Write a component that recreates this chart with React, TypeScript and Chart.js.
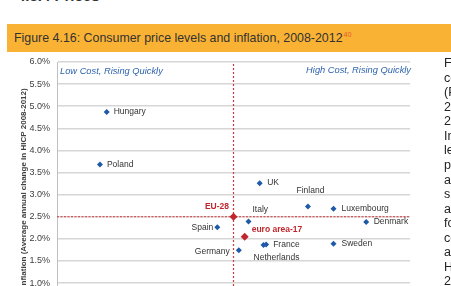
import React, { useEffect, useRef } from "react";
import { Chart, registerables } from "chart.js";

Chart.register(...registerables);

// ---- Data ----
const countries = ["Hungary", "Poland", "Spain", "Germany", "Italy", "UK", "France", "Netherlands", "Finland", "Luxembourg", "Denmark", "Sweden"];
const priceLevel = [56.9, 54.6, 94.5, 101.8, 105.1, 108.9, 111.1, 110.2, 125.3, 134.0, 145.1, 134.0];
const inflation = [4.87, 3.68, 2.26, 1.74, 2.39, 3.26, 1.87, 1.86, 2.73, 2.68, 2.38, 1.89];
const aggregates = ["EU-28", "euro area-17"];
const aggPriceLevel = [100, 103.8];
const aggInflation = [2.5, 2.05];
const quadrantLabels = ["Low Cost, Rising Quickly", "High Cost, Rising Quickly"];
const titleText = "Figure 4.16: Consumer price levels and inflation, 2008-2012";
const titleNote = "40";
const yAxisTitle = "Inflation (Average annual change in HICP 2008-2012)";
const paragraphLines = ["Figure 4.16", "compares", "(PLI)", "2012", "2008-", "Inflation", "levels", "price", "and", "such", "are", "for", "countries", "and", "Hungary", "2012"];

// ---- Axis configuration ----
const X_MIN = 40;
const X_MAX = 160;
const Y_MIN = 0.3;
const Y_MAX = 6;
const Y_STEP = 0.5;

// ---- Label placement (style) ----
type Place = { align: CanvasTextAlign; dx: number; dy: number };
const LABEL_PLACE: Record<string, Place> = {
  Hungary: { align: "left", dx: 7, dy: 0 },
  Poland: { align: "left", dx: 7, dy: 0 },
  Spain: { align: "right", dx: -4, dy: 0 },
  Germany: { align: "right", dx: -9, dy: 1.5 },
  Italy: { align: "left", dx: 4, dy: -11.5 },
  UK: { align: "left", dx: 7.5, dy: 0 },
  France: { align: "left", dx: 7, dy: 0 },
  Netherlands: { align: "center", dx: 13, dy: 12.5 },
  Finland: { align: "center", dx: 2.5, dy: -16 },
  Luxembourg: { align: "left", dx: 8, dy: 0 },
  Denmark: { align: "left", dx: 7.5, dy: 0 },
  Sweden: { align: "left", dx: 8, dy: 0 },
  "EU-28": { align: "right", dx: -4.5, dy: -10 },
  "euro area-17": { align: "left", dx: 7, dy: -6.5 },
};

const FONT = "'Liberation Sans', Arial, sans-serif";
const BLUE = "#1F5AA8";
const RED = "#C0272D";
const LINE_RED = "#D2383C";
const QUAD_BLUE = "#2F64AE";

const labelPlugin = {
  id: "pointLabels",
  afterDatasetsDraw(chart: any) {
    const ctx = chart.ctx as CanvasRenderingContext2D;
    ctx.save();
    ctx.textBaseline = "middle";
    const m0 = chart.getDatasetMeta(0);
    ctx.font = `8.5px ${FONT}`;
    ctx.fillStyle = "#333333";
    m0.data.forEach((el: any, i: number) => {
      const name = countries[i];
      const p = LABEL_PLACE[name];
      ctx.textAlign = p.align;
      ctx.fillText(name, el.x + p.dx, el.y + p.dy);
    });
    const m1 = chart.getDatasetMeta(1);
    ctx.font = `bold 8.5px ${FONT}`;
    ctx.fillStyle = RED;
    m1.data.forEach((el: any, i: number) => {
      const name = aggregates[i];
      const p = LABEL_PLACE[name];
      ctx.textAlign = p.align;
      ctx.fillText(name, el.x + p.dx, el.y + p.dy);
    });
    const a = chart.chartArea;
    ctx.font = `italic 9.3px ${FONT}`;
    ctx.fillStyle = QUAD_BLUE;
    ctx.textAlign = "left";
    ctx.fillText(quadrantLabels[0], a.left + 3, a.top + 9);
    ctx.textAlign = "right";
    ctx.fillText(quadrantLabels[1], a.right + 1, a.top + 8);
    ctx.restore();
  },
};

export default function App() {
  const ref = useRef<HTMLCanvasElement | null>(null);

  useEffect(() => {
    if (!ref.current) return;
    const chart = new Chart(ref.current, {
      type: "scatter",
      data: {
        datasets: [
          {
            label: "Countries",
            data: countries.map((_, i) => ({ x: priceLevel[i], y: inflation[i] })),
            pointStyle: "rectRot",
            pointRadius: 3,
            backgroundColor: BLUE,
            borderColor: BLUE,
            borderWidth: 0,
            order: 1,
          },
          {
            label: "Aggregates",
            data: aggregates.map((_, i) => ({ x: aggPriceLevel[i], y: aggInflation[i] })),
            pointStyle: "rectRot",
            pointRadius: 4,
            backgroundColor: RED,
            borderColor: RED,
            borderWidth: 0,
            order: 0,
          },
          {
            type: "line",
            label: "EU inflation",
            data: [
              { x: X_MIN, y: aggInflation[0] },
              { x: X_MAX, y: aggInflation[0] },
            ],
            borderColor: LINE_RED,
            borderWidth: 1,
            borderDash: [2, 1.5],
            pointRadius: 0,
            showLine: true,
            order: 5,
          } as any,
          {
            type: "line",
            label: "EU price level",
            data: [
              { x: aggPriceLevel[0], y: Y_MIN },
              { x: aggPriceLevel[0], y: Y_MAX },
            ],
            borderColor: LINE_RED,
            borderWidth: 1.2,
            borderDash: [2, 2],
            pointRadius: 0,
            showLine: true,
            order: 5,
          } as any,
        ],
      },
      options: {
        animation: false,
        responsive: false,
        events: [],
        layout: { padding: { left: 19, top: 62, right: 41, bottom: 26 } },
        plugins: { legend: { display: false }, tooltip: { enabled: false } },
        scales: {
          x: { type: "linear", min: X_MIN, max: X_MAX, display: false },
          y: {
            type: "linear",
            min: Y_MIN,
            max: Y_MAX,
            afterFit: (s: any) => {
              s.width = 38;
            },
            border: { display: true, color: "#BFBFBF", width: 1 },
            grid: { color: "#D6D6D6", lineWidth: 1.5, drawTicks: false },
            ticks: {
              stepSize: Y_STEP,
              padding: 7,
              color: "#404040",
              font: { size: 9, family: FONT },
              callback: (v: any) => Number(v).toFixed(1) + "%",
            },
            title: {
              display: true,
              text: yAxisTitle,
              color: "#404040",
              font: { size: 8, family: FONT, weight: "bold" },
              padding: 0,
            },
          },
        },
      },
      plugins: [labelPlugin],
    });
    return () => chart.destroy();
  }, []);

  return (
    <div
      style={{
        position: "fixed",
        left: 0,
        top: 0,
        width: 451,
        height: 286,
        overflow: "hidden",
        background: "#ffffff",
        fontFamily: FONT,
      }}
    >
      <div
        style={{
          position: "absolute",
          left: 17,
          top: -12,
          fontSize: 15,
          lineHeight: "15px",
          fontWeight: "bold",
          color: "#333",
          whiteSpace: "nowrap",
        }}
      >
        4.3.4 Prices
      </div>
      <div
        style={{
          position: "absolute",
          left: 7,
          top: 24,
          width: 444,
          height: 28,
          background: "#F9B233",
        }}
      >
        <div
          style={{
            position: "absolute",
            left: 7,
            top: 6,
            fontSize: 12.4,
            lineHeight: "16px",
            color: "#333333",
            whiteSpace: "nowrap",
          }}
        >
          {titleText}
          <sup style={{ fontSize: 7, color: "#E4572E", verticalAlign: "top", position: "relative", top: -3, marginLeft: 1 }}>
            {titleNote}
          </sup>
        </div>
      </div>
      <div style={{ position: "absolute", left: 0, top: 0, width: 451, height: 340 }}>
        <canvas ref={ref} width={451} height={340} style={{ width: 451, height: 340, display: "block" }} />
      </div>
      <div
        style={{
          position: "absolute",
          left: 444,
          top: 56,
          fontSize: 12.5,
          lineHeight: "14.56px",
          color: "#222",
          whiteSpace: "nowrap",
        }}
      >
        {paragraphLines.map((l, i) => (
          <div key={i}>{l}</div>
        ))}
      </div>
    </div>
  );
}
